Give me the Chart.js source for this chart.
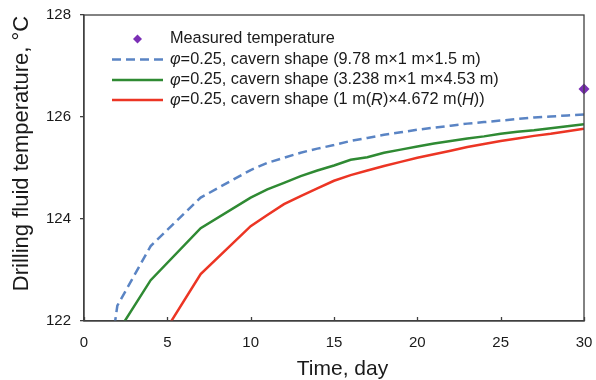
<!DOCTYPE html>
<html>
<head>
<meta charset="utf-8">
<script src="https://cdn.jsdelivr.net/npm/chart.js@4.4.0/dist/chart.umd.min.js"></script>
<style>
  html, body { margin: 0; padding: 0; background: #fff; }
  #wrap { width: 596px; height: 380px; }
</style>
</head>
<body>
<div id="wrap"><canvas id="tempChart" width="596" height="380"></canvas></div>
<script>
// values (day, degC)
const blueDays = [1, 2, 4, 7, 10, 11, 12, 13, 14, 15, 16, 17, 18, 19, 20, 21, 22, 23, 24, 25, 26, 27, 28, 29, 30]
const blueTemps = [120.0, 122.3, 123.47, 124.42, 124.96, 125.1, 125.2, 125.3, 125.38, 125.45, 125.53, 125.59, 125.65, 125.7, 125.75, 125.79, 125.83, 125.87, 125.9, 125.93, 125.96, 125.99, 126.01, 126.03, 126.05]

const greenDays = [2, 4, 7, 10, 11, 12, 13, 14, 15, 16, 17, 18, 19, 20, 21, 22, 23, 24, 25, 26, 27, 28, 29, 30]
const greenTemps = [121.77, 122.8, 123.82, 124.42, 124.58, 124.71, 124.84, 124.95, 125.05, 125.16, 125.21, 125.3, 125.36, 125.42, 125.48, 125.53, 125.58, 125.62, 125.67, 125.71, 125.74, 125.78, 125.82, 125.86]

const redDays = [4, 7, 10, 11, 12, 13, 14, 15, 16, 17, 18, 19, 20, 21, 22, 23, 24, 25, 26, 27, 28, 29, 30]
const redTemps = [121.35, 122.92, 123.86, 124.08, 124.29, 124.45, 124.6, 124.75, 124.86, 124.95, 125.04, 125.12, 125.2, 125.27, 125.34, 125.41, 125.47, 125.53, 125.58, 125.63, 125.67, 125.72, 125.77]

const measuredDays = [30]
const measuredTemps = [126.55]

const xTicks = [0, 5, 10, 15, 20, 25, 30]
const yTicks = [122, 124, 126, 128]

// legend labels, parts between "_" are italic
const legendLabels = [
  "Measured temperature",
  "_φ_=0.25, cavern shape (9.78 m×1 m×1.5 m)",
  "_φ_=0.25, cavern shape (3.238 m×1 m×4.53 m)",
  "_φ_=0.25, cavern shape (1 m(_R_)×4.672 m(_H_))"
]

const FONT = "'Liberation Sans', Arial, sans-serif"
const AXIS = "#404040"

const toPoints = (xs, ys) => xs.map((x, i) => ({ x: x, y: ys[i] }))

// box, inward x ticks, legend and axis titles
const decor = {
  id: "decor",
  afterDraw: chart => {
    const ctx = chart.ctx
    const area = chart.chartArea
    const xs = chart.scales.x
    ctx.save()
    ctx.strokeStyle = AXIS
    ctx.lineWidth = 1.3
    ctx.strokeRect(area.left, area.top, area.right - area.left, area.bottom - area.top)
    xTicks.forEach(v => {
      const px = Math.round(xs.getPixelForValue(v)) + 0.5
      ctx.beginPath()
      ctx.moveTo(px, area.bottom)
      ctx.lineTo(px, area.bottom - 4)
      ctx.stroke()
    })

    // legend
    const rows = [39, 59.5, 80, 100]
    chart.data.datasets.forEach((ds, i) => {
      const y = rows[i]
      if (ds.showLine === false) {
        ctx.fillStyle = ds.backgroundColor
        ctx.beginPath()
        ctx.moveTo(137.5, y - 4.5)
        ctx.lineTo(142, y)
        ctx.lineTo(137.5, y + 4.5)
        ctx.lineTo(133, y)
        ctx.closePath()
        ctx.fill()
      } else {
        ctx.strokeStyle = ds.borderColor
        ctx.lineWidth = 2.5
        ctx.setLineDash(ds.borderDash || [])
        ctx.beginPath()
        ctx.moveTo(112, y)
        ctx.lineTo(163, y)
        ctx.stroke()
        ctx.setLineDash([])
      }
      let tx = 170
      ctx.fillStyle = "#1a1a1a"
      ctx.textBaseline = "middle"
      ctx.textAlign = "left"
      legendLabels[i].split("_").forEach((part, j) => {
        ctx.font = (j % 2 ? "italic " : "") + "16.3px " + FONT
        ctx.fillText(part, tx, y)
        tx += ctx.measureText(part).width
      })
    })

    // axis titles
    ctx.fillStyle = "#1a1a1a"
    ctx.textAlign = "center"
    ctx.textBaseline = "alphabetic"
    ctx.font = "21px " + FONT
    ctx.fillText("Time, day", 342.5, 375)
    ctx.translate(28, 153.5)
    ctx.rotate(-Math.PI / 2)
    ctx.font = "22px " + FONT
    ctx.fillText("Drilling fluid temperature, °C", 0, 0)
    ctx.restore()
  }
}

const lineStyle = {
  type: "line",
  pointRadius: 0,
  borderWidth: 2.5,
  tension: 0,
  fill: false
}

new Chart(document.getElementById("tempChart"), {
  type: "line",
  data: {
    datasets: [
      {
        type: "line",
        label: "Measured temperature",
        data: toPoints(measuredDays, measuredTemps),
        showLine: false,
        pointStyle: "rectRot",
        pointRadius: 5.5,
        backgroundColor: "#7B2FB5",
        borderColor: "#7B2FB5",
        borderWidth: 0,
        clip: false
      },
      {
        ...lineStyle,
        label: "blue",
        data: toPoints(blueDays, blueTemps),
        borderColor: "#5A84C4",
        borderDash: [9, 5]
      },
      {
        ...lineStyle,
        label: "green",
        data: toPoints(greenDays, greenTemps),
        borderColor: "#2F8A33"
      },
      {
        ...lineStyle,
        label: "red",
        data: toPoints(redDays, redTemps),
        borderColor: "#EC3524"
      }
    ]
  },
  options: {
    responsive: false,
    animation: false,
    devicePixelRatio: 1,
    layout: { padding: { left: 0, right: 12, top: 15, bottom: 0 } },
    scales: {
      x: {
        type: "linear",
        min: 0,
        max: 30,
        afterFit: s => { s.height = 59; s.paddingLeft = 0; s.paddingRight = 0 },
        afterBuildTicks: s => { s.ticks = xTicks.map(v => ({ value: v })) },
        grid: { display: false },
        border: { display: true, color: AXIS, width: 1.3 },
        ticks: { font: { size: 15, family: FONT }, color: "#1a1a1a", padding: 5, maxRotation: 0 }
      },
      y: {
        min: 122,
        max: 128,
        afterFit: s => { s.width = 84; s.paddingTop = 0; s.paddingBottom = 0 },
        afterBuildTicks: s => { s.ticks = yTicks.map(v => ({ value: v })) },
        grid: { drawOnChartArea: false, drawTicks: true, tickLength: 4, color: AXIS, lineWidth: 1.3 },
        border: { display: true, color: AXIS, width: 1.3 },
        ticks: { font: { size: 15, family: FONT }, color: "#1a1a1a", padding: 9 }
      }
    },
    plugins: {
      legend: { display: false },
      tooltip: { enabled: false }
    }
  },
  plugins: [decor]
})
</script>
</body>
</html>
